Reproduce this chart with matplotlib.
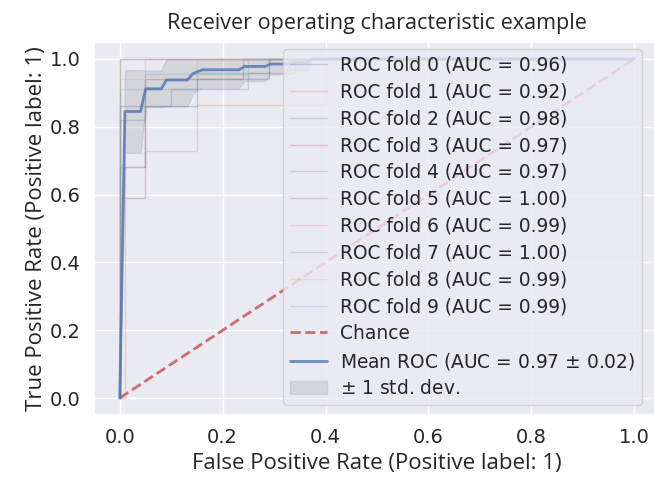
import numpy as np
import matplotlib
matplotlib.use("Agg")
import matplotlib.pyplot as plt
import seaborn as sns

sns.set_theme(style="darkgrid", color_codes=True)
plt.rcParams['font.family'] = ['DejaVu Sans']

# ---- data ----
fold_labels = ["ROC fold 0 (AUC = 0.96)", "ROC fold 1 (AUC = 0.92)", "ROC fold 2 (AUC = 0.98)",
               "ROC fold 3 (AUC = 0.97)", "ROC fold 4 (AUC = 0.97)", "ROC fold 5 (AUC = 1.00)",
               "ROC fold 6 (AUC = 0.99)", "ROC fold 7 (AUC = 1.00)", "ROC fold 8 (AUC = 0.99)",
               "ROC fold 9 (AUC = 0.99)"]

fold0_fpr = [0, 0, 0.05, 0.05, 0.15, 0.15, 0.29, 0.29, 1]
fold0_tpr = [0, 0.68, 0.68, 0.86, 0.86, 0.94, 0.94, 1, 1]
fold1_fpr = [0, 0.01, 0.01, 0.05, 0.05, 0.15, 0.15, 0.40, 0.40, 1]
fold1_tpr = [0, 0, 0.68, 0.68, 0.73, 0.73, 0.864, 0.864, 1, 1]
fold2_fpr = [0, 0, 0.05, 0.05, 0.15, 0.15, 0.29, 0.29, 1]
fold2_tpr = [0, 0.82, 0.82, 0.91, 0.91, 0.96, 0.96, 1, 1]
fold3_fpr = [0, 0, 0.05, 0.05, 0.24, 0.24, 1]
fold3_tpr = [0, 0.59, 0.59, 0.94, 0.94, 1, 1]
fold4_fpr = [0, 0, 0.10, 0.10, 0.25, 0.25, 0.34, 0.34, 1]
fold4_tpr = [0, 0.86, 0.86, 0.91, 0.91, 0.96, 0.96, 1, 1]
fold5_fpr = [0, 0, 1]
fold5_tpr = [0, 1, 1]
fold6_fpr = [0, 0, 0.05, 0.05, 1]
fold6_tpr = [0, 0.86, 0.86, 1, 1]
fold7_fpr = [0, 0, 1]
fold7_tpr = [0, 1, 1]
fold8_fpr = [0, 0, 0.15, 0.15, 1]
fold8_tpr = [0, 0.94, 0.94, 1, 1]
fold9_fpr = [0, 0, 0.05, 0.05, 0.25, 0.25, 1]
fold9_tpr = [0, 0.91, 0.91, 0.955, 0.955, 1, 1]

fold_fprs = [fold0_fpr, fold1_fpr, fold2_fpr, fold3_fpr, fold4_fpr,
             fold5_fpr, fold6_fpr, fold7_fpr, fold8_fpr, fold9_fpr]
fold_tprs = [fold0_tpr, fold1_tpr, fold2_tpr, fold3_tpr, fold4_tpr,
             fold5_tpr, fold6_tpr, fold7_tpr, fold8_tpr, fold9_tpr]

mean_fpr = [0.0, 0.0101, 0.0404, 0.0505, 0.0808, 0.0909, 0.1313, 0.1414, 0.1515, 0.1616,
            0.2323, 0.2424, 0.2828, 0.2929, 0.3333, 0.3434, 0.3636, 0.3737, 1.0]
mean_tpr = [0.0, 0.845, 0.845, 0.912, 0.912, 0.938, 0.938, 0.955, 0.963, 0.968,
            0.968, 0.978, 0.978, 0.985, 0.985, 0.990, 0.990, 1.0, 1.0]
std_tpr = [0.0, 0.122, 0.122, 0.054, 0.054, 0.078, 0.078, 0.06, 0.053, 0.053,
           0.053, 0.043, 0.043, 0.03, 0.03, 0.025, 0.025, 0.0, 0.0]
mean_label = "Mean ROC (AUC = 0.97 $\\pm$ 0.02)"
std_label = "$\\pm$ 1 std. dev."

fig = plt.figure(figsize=(6.54, 4.78), dpi=100)
ax = fig.add_axes([94 / 654, 63 / 478, 566 / 654, 373 / 478])

for fpr, tpr, lab in zip(fold_fprs, fold_tprs, fold_labels):
    ax.plot(fpr, tpr, lw=1, alpha=0.3, label=lab)

ax.plot([0, 1], [0, 1], linestyle="--", lw=2, color="r", label="Chance", alpha=0.8)
ax.plot(mean_fpr, mean_tpr, color="b", lw=2, alpha=0.8, label=mean_label)

mt = np.array(mean_tpr)
st = np.array(std_tpr)
upper = np.minimum(mt + st, 1)
lower = np.maximum(mt - st, 0)
ax.fill_between(mean_fpr, lower, upper, color="grey", alpha=0.2, label=std_label)

ax.set_xlim(-0.05, 1.05)
ax.set_ylim(-0.05, 1.05)
ax.set_xticks([0, 0.2, 0.4, 0.6, 0.8, 1.0])
ax.set_yticks([0, 0.2, 0.4, 0.6, 0.8, 1.0])
ax.tick_params(labelsize=14)
lab_font = ["Open Sans", "DejaVu Sans"]
ax.set_title("Receiver operating characteristic example", fontsize=15.5,
             family=lab_font, pad=9)
ax.set_xlabel("False Positive Rate (Positive label: 1)", fontsize=16, family=lab_font)
ax.set_ylabel("True Positive Rate (Positive label: 1)", fontsize=16, family=lab_font,
              labelpad=2)

leg = ax.legend(loc="lower right", bbox_to_anchor=(642 / 654, 73 / 478),
                bbox_transform=fig.transFigure, borderaxespad=0,
                fontsize=13.4, labelspacing=0.42, handlelength=2.0,
                handletextpad=0.7, borderpad=0.35)

fig.savefig("out.png", dpi=100)
